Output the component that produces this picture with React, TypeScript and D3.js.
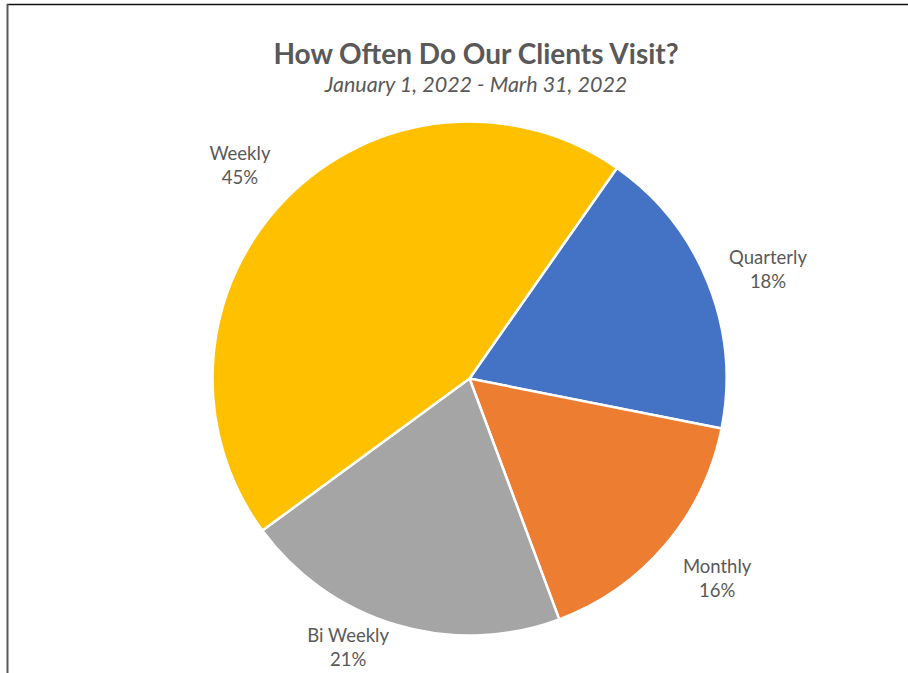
import React from "react";
import * as d3 from "d3";

const categories = ["Quarterly", "Monthly", "Bi Weekly", "Weekly"];
const values = [18.4, 16.2, 20.6, 44.8];
const percentLabels = ["18%", "16%", "21%", "45%"];
const colors = ["#4472C4", "#ED7D31", "#A5A5A5", "#FFC000"];
const title = "How Often Do Our Clients Visit?";
const subtitle = "January 1, 2022 - Marh 31, 2022";

// label nudges (layout only)
const labelNudge: [number, number][] = [
  [9, 13],
  [10, 3],
  [-32, -24],
  [-6.5, 11],
];

const W = 908;
const H = 673;
const cx = 469.5;
const cy = 378.5;
const R = 257;
const startDeg = 35;

export default function App() {
  const data = categories.map((c, i) => ({ c, v: values[i], p: percentLabels[i], color: colors[i], i }));
  const pie = d3
    .pie<any>()
    .value((d) => d.v)
    .sort(null)
    .startAngle((startDeg * Math.PI) / 180)
    .endAngle((startDeg * Math.PI) / 180 + 2 * Math.PI);
  const arcs = pie(data);
  const arc = d3.arc<any>().innerRadius(0).outerRadius(R);
  const labelArc = d3.arc<any>().innerRadius(312).outerRadius(312);
  const font = "Lato, 'Open Sans', sans-serif";
  return (
    <svg
      width={W}
      height={H}
      style={{ position: "absolute", left: 0, top: 0, background: "#fff" }}
    >
      <rect x={0} y={0} width={W} height={H} fill="#fff" />
      <line x1={7} y1={4.5} x2={W} y2={4.5} stroke="#111" strokeWidth={1.4} />
      <line x1={7.5} y1={4} x2={7.5} y2={H} stroke="#595959" strokeWidth={2} />
      <text
        x={476}
        y={64}
        textAnchor="middle"
        fontFamily={font}
        fontWeight="bold"
        fontSize={28}
        fill="#595959"
      >
        {title}
      </text>
      <text
        x={476}
        y={92}
        textAnchor="middle"
        fontFamily={font}
        fontStyle="italic"
        fontSize={21.5}
        fill="#595959"
      >
        {subtitle}
      </text>
      <g transform={`translate(${cx},${cy})`}>
        {arcs.map((a, k) => (
          <path key={k} d={arc(a) as string} fill={a.data.color} stroke="#fff" strokeWidth={2.5} strokeLinejoin="round" />
        ))}
        {arcs.map((a, k) => {
          const [lx, ly] = labelArc.centroid(a);
          const x = lx + labelNudge[k][0];
          const y = ly + labelNudge[k][1];
          return (
            <text key={"l" + k} textAnchor="middle" fontFamily={font} fontSize={18.5} fill="#595959">
              <tspan x={x} y={y - 11}>{a.data.c}</tspan>
              <tspan x={x} y={y + 13}>{a.data.p}</tspan>
            </text>
          );
        })}
      </g>
    </svg>
  );
}
